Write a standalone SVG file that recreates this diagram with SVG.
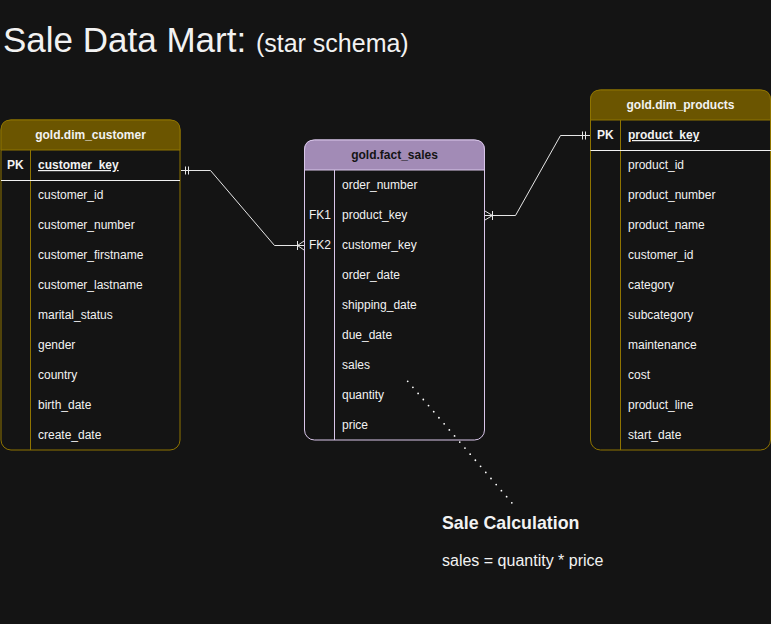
<svg xmlns="http://www.w3.org/2000/svg" width="771" height="624" viewBox="0 0 771 624">
<style>
text{font-family:"Liberation Sans",Arial,Helvetica,sans-serif;fill:#f2f2f2}
.t{font-size:12px}
.b{font-weight:bold}
.h{font-size:12px;font-weight:bold;text-anchor:middle}
.gold{fill:#141414;stroke:#8f7400;stroke-width:1}
.goldh{fill:#6b5500;stroke:#8f7400;stroke-width:1}
.pur{fill:#141414;stroke:#d9c6ea;stroke-width:1}
.purh{fill:#a28bb6;stroke:#d9c6ea;stroke-width:1}
.sep{stroke:#f2f2f2;stroke-width:1}
.conn{fill:none;stroke:#e6e6e6;stroke-width:1}
</style>
<rect width="771" height="624" fill="#141414"/>
<text x="3" y="52" style="font-size:35px">Sale Data Mart: <tspan style="font-size:25px">(star schema)</tspan></text>

<g id="dim_customer">
<rect class="gold" x="1" y="120" width="179" height="330" rx="10"/>
<path class="goldh" d="M1,150 V130 Q1,120 11,120 H170 Q180,120 180,130 V150 Z"/>
<line x1="30.5" y1="150" x2="30.5" y2="450" stroke="#8f7400"/>
<line class="sep" x1="1" y1="180.5" x2="180" y2="180.5"/>
<text class="h" x="90.5" y="139">gold.dim_customer</text>
<text class="t b" x="7" y="169">PK</text>
<text class="t b" x="38" y="169" text-decoration="underline">customer_key</text>
<text class="t" x="38" y="199">customer_id</text>
<text class="t" x="38" y="229">customer_number</text>
<text class="t" x="38" y="259">customer_firstname</text>
<text class="t" x="38" y="289">customer_lastname</text>
<text class="t" x="38" y="319">marital_status</text>
<text class="t" x="38" y="349">gender</text>
<text class="t" x="38" y="379">country</text>
<text class="t" x="38" y="409">birth_date</text>
<text class="t" x="38" y="439">create_date</text>
</g>

<g id="fact_sales">
<rect class="pur" x="304.5" y="140" width="180" height="300" rx="10"/>
<path class="purh" d="M304.5,170 V150 Q304.5,140 314.5,140 H474.5 Q484.5,140 484.5,150 V170 Z"/>
<line x1="334.5" y1="170" x2="334.5" y2="440" stroke="#d9c6ea"/>
<text class="h" x="394.5" y="159" style="fill:#141414">gold.fact_sales</text>
<text class="t" x="342" y="189">order_number</text>
<text class="t" x="309" y="219">FK1</text>
<text class="t" x="342" y="219">product_key</text>
<text class="t" x="309" y="249">FK2</text>
<text class="t" x="342" y="249">customer_key</text>
<text class="t" x="342" y="279">order_date</text>
<text class="t" x="342" y="309">shipping_date</text>
<text class="t" x="342" y="339">due_date</text>
<text class="t" x="342" y="369">sales</text>
<text class="t" x="342" y="399">quantity</text>
<text class="t" x="342" y="429">price</text>
</g>

<g id="dim_products">
<rect class="gold" x="590.5" y="90" width="180" height="360" rx="10"/>
<path class="goldh" d="M590.5,120 V100 Q590.5,90 600.5,90 H760.5 Q770.5,90 770.5,100 V120 Z"/>
<line x1="620.5" y1="120" x2="620.5" y2="450" stroke="#8f7400"/>
<line class="sep" x1="590.5" y1="150.5" x2="771" y2="150.5"/>
<text class="h" x="680.5" y="109">gold.dim_products</text>
<text class="t b" x="597" y="139">PK</text>
<text class="t b" x="628" y="139" text-decoration="underline">product_key</text>
<text class="t" x="628" y="169">product_id</text>
<text class="t" x="628" y="199">product_number</text>
<text class="t" x="628" y="229">product_name</text>
<text class="t" x="628" y="259">customer_id</text>
<text class="t" x="628" y="289">category</text>
<text class="t" x="628" y="319">subcategory</text>
<text class="t" x="628" y="349">maintenance</text>
<text class="t" x="628" y="379">cost</text>
<text class="t" x="628" y="409">product_line</text>
<text class="t" x="628" y="439">start_date</text>
</g>

<g id="connectors">
<path class="conn" d="M181,170.5 H210.5 L274.5,245.5 H304"/>
<path class="conn" d="M185.5,166.5 V174.5 M188.5,166.5 V174.5"/>
<path class="conn" d="M297.5,241 V250 M297.5,245.5 L304,241 M297.5,245.5 L304,250"/>
<path class="conn" d="M485,215.5 H515.5 L560.5,135.5 H590"/>
<path class="conn" d="M582.5,131.5 V139.5 M585.5,131.5 V139.5"/>
<path class="conn" d="M492.5,211 V220 M492.5,215.5 L485,211 M492.5,215.5 L485,220"/>
<path d="M407.7,381.3 L512,503" fill="none" stroke="#ffffff" stroke-width="1.8" stroke-linecap="round" stroke-dasharray="0 8"/>
</g>

<g id="note">
<text x="442" y="529" class="b" style="font-size:17.8px">Sale Calculation</text>
<text x="442" y="566" style="font-size:16px">sales = quantity * price</text>
</g>
</svg>
